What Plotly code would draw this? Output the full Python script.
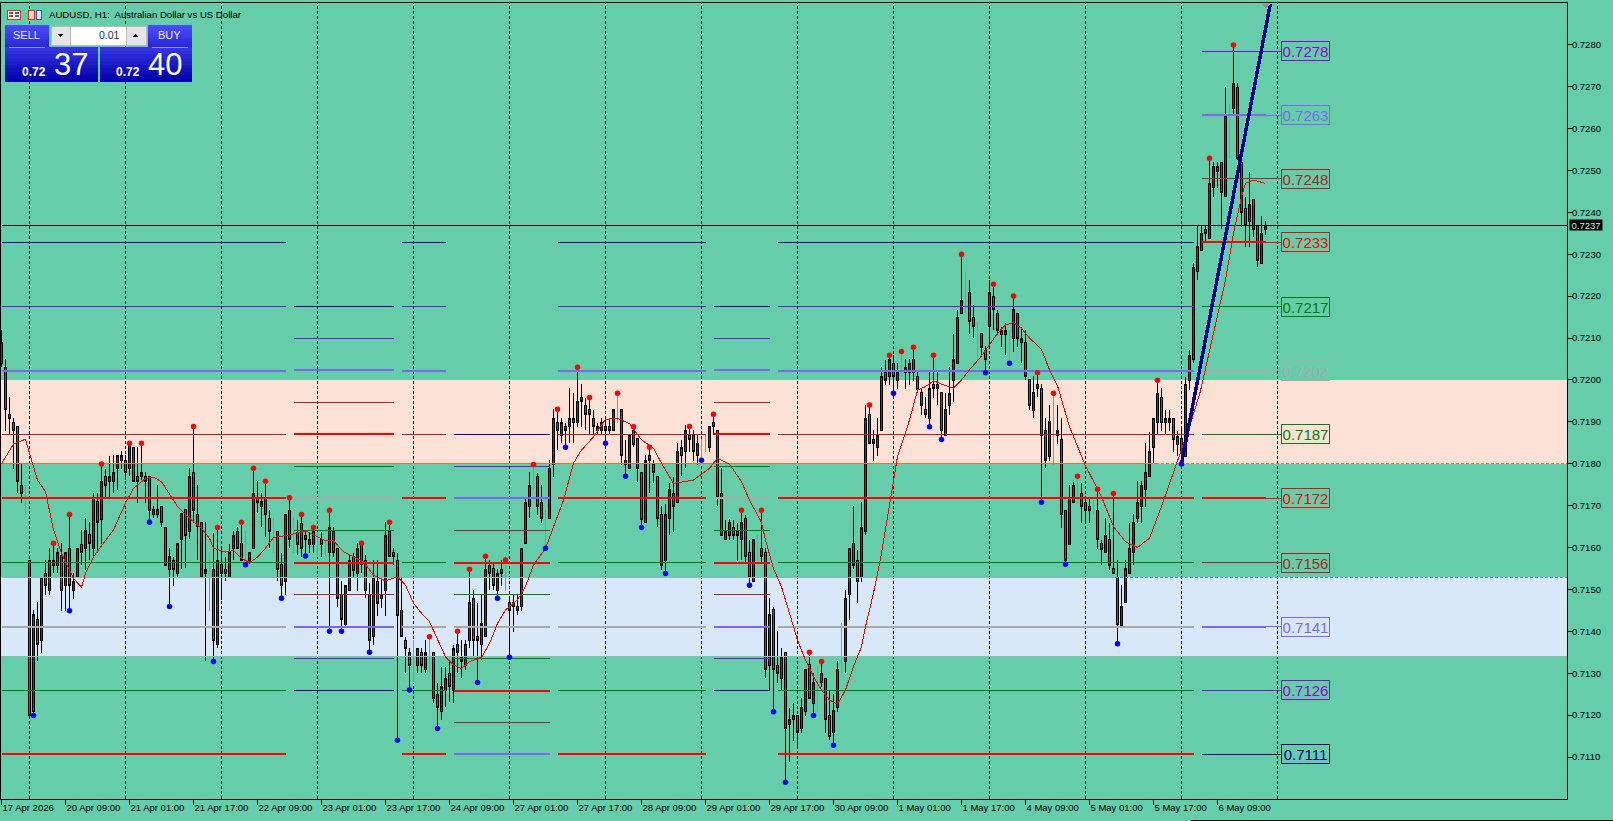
import plotly.graph_objects as go

# AUDUSD H1 chart, prices below are written in points (0.7237 -> 7237)
opens = [7204,7203,7191.8,7189.9,7188.9,7174.9,7171.7,7157,7120.8,7142.9,
 7137.8,7153.8,7149.7,7155.8,7155.8,7158,7150.9,7159.8,7149.7,7152.9,
 7160.8,7159.8,7163,7159.8,7170.9,7166.8,7176.9,7175.7,7175.7,7178.8,
 7180.7,7180.7,7178.8,7183.9,7176.9,7176.9,7176.9,7176.9,7167.9,7167.9,
 7169.8,7164.8,7154.8,7156.9,7153.8,7161.8,7169,7163.8,7177.9,7167.9,
 7165.9,7153.8,7156.2,7154.8,7136.8,7156,7154.8,7152.9,7159.8,7163.8,
 7161,7157.8,7156.9,7159.7,7172,7169.8,7172,7167,7164.8,7163.8,
 7156,7151.9,7168.8,7163.8,7163.7,7165.8,7162.8,7160.8,7160.8,7163,
 7161.8,7159.8,7158.9,7163.8,7159.8,7148.9,7141.7,7149.7,7157.8,7153.7,
 7160.7,7156.9,7148.9,7138.7,7151.9,7147.8,7149.7,7163.9,7158.9,7156.9,
 7145,7137.9,7135,7132.9,7131.8,7135,7130.8,7135.9,7135,7124.9,
 7120.9,7125.8,7130,7125.8,7136.8,7133.8,7131.8,7137.8,7147.9,7138.8,
 7136.8,7138.7,7155.8,7154.9,7149.7,7154.8,7152.9,7146.9,7145.9,7145.9,
 7145.9,7160.9,7169.8,7175.7,7176.9,7170.8,7167.9,7167,7179.8,7189.9,
 7186.8,7188.9,7188.8,7189.9,7189.9,7195.8,7193.9,7193,7190.8,7187.9,
 7187.9,7188.8,7188.8,7187.9,7193.8,7193,7180.8,7178.9,7188,7185.9,
 7177.9,7165.9,7182,7179.8,7177,7167.9,7156.8,7166.9,7172.9,7170.7,
 7181.9,7182.9,7186.8,7186.8,7181.9,7183.9,7184.9,7183.8,7189.9,7187.9,
 7172.9,7161.9,7162.8,7164.8,7163.8,7161.8,7166.9,7158.8,7151.8,7161,
 7159.8,7158.9,7131.8,7145.1,7131.8,7128.8,7135,7117.8,7119,7120,
 7116.8,7120.8,7132,7122.8,7128.8,7130,7128.8,7120,7115.8,7121.8,
 7131.9,7132.8,7148.7,7161,7156.9,7152.8,7163.8,7191.8,7185.8,7183.9,
 7187.9,7201.7,7200.8,7204,7199.8,7203,7201.7,7201.7,7204.9,7200.9,
 7196.9,7193,7190.7,7199,7199,7196.9,7186.8,7193.9,7199.8,7204,
 7215.9,7219.9,7220.9,7214.9,7211.9,7211,7206.9,7212.7,7220,7215.9,
 7210.8,7210.8,7211,7209.9,7215.9,7208.9,7209,7200,7192.8,7199,
 7198,7188,7181.8,7188.8,7186.8,7185.8,7168.9,7160.8,7170.7,7173.9,
 7172.9,7170.8,7169.8,7169.8,7168.9,7161,7158.8,7161.9,7154.9,7152.9,
 7141.3,7146.8,7153.8,7158.8,7166.9,7169.7,7173.9,7176.9,7183.8,7189.8,
 7195.8,7189.8,7189.8,7190.8,7184.7,7185.9,7181.8,7199.8,7204.9,7225.8,
 7230.8,7236,7233.7,7245.9,7249.7,7251.9,7243.7,7263.6,7264.7,7269.8,
 7251.9,7241,7237.8,7243,7236.9,7227.8,7236]
highs = [7212,7204.9,7195.9,7190.8,7188.9,7179.9,7174.9,7157,7145,7147,
 7152.9,7156.9,7159.8,7161,7159.8,7161,7158.8,7167.9,7153.8,7159.8,
 7164.2,7167,7166,7172.9,7172.9,7179.9,7178.8,7181.9,7182,7182,
 7183.1,7182,7184.9,7183.9,7184,7184.9,7178,7176.9,7169.8,7174.9,
 7169.8,7164.8,7159.8,7157.8,7161,7168,7169,7178.9,7188.9,7174.9,
 7165.9,7166,7159,7163.4,7164.8,7160,7157.8,7160.8,7164,7165,
 7166,7163.9,7158.9,7178.9,7175.8,7173,7175.8,7169,7167,7163.8,
 7158.8,7167.9,7171.9,7167,7166.6,7167.9,7164,7163.4,7164.8,7163.8,
 7163.8,7161.8,7168.9,7164.8,7159.8,7151.9,7151,7158.2,7158.6,7161,
 7161,7158.2,7151.5,7157,7157,7153,7166,7166,7159.8,7158.8,
 7153,7138.7,7136,7137.9,7135.9,7135.9,7137.9,7138.7,7135,7127.6,
 7131.6,7131.6,7132.7,7136.7,7140,7137.9,7137.9,7154.8,7149.9,7146.7,
 7148.9,7157.9,7157,7156.6,7154.8,7156.9,7157,7147.9,7148.9,7148.9,
 7159.8,7171.8,7178,7179.8,7177.7,7174.8,7169,7180.9,7193,7193,
 7190.8,7189.6,7198,7196.8,7203,7199,7195.6,7195.8,7192.8,7189.6,
 7190.8,7190.8,7190.8,7193,7196.8,7193,7185.6,7186.7,7188.8,7186,
 7177.9,7182,7183.9,7180.9,7177,7169.8,7170.5,7175.3,7176.9,7184.9,
 7185.6,7189.2,7188.9,7188,7186.8,7185.8,7186.8,7188.8,7191.8,7187.9,
 7178.9,7166.6,7166.9,7166.6,7165.8,7168.9,7167.8,7161.8,7161.8,7163,
 7168.9,7160,7147.9,7145.9,7140,7135.9,7135,7121.8,7122.8,7120,
 7124,7131,7135,7130,7131.8,7132.8,7128.8,7126,7125,7132.8,
 7141.9,7149.9,7159.8,7169.9,7159.4,7170.8,7194,7194,7188,7190.8,
 7203,7204.8,7205.9,7205.9,7204,7206.8,7204.9,7204.9,7207.8,7201.9,
 7197.8,7196,7201.9,7205.9,7201.9,7196.9,7196.9,7203,7211,7216.8,
 7230,7225.8,7223.8,7217.9,7213.9,7211,7208,7223.8,7222.8,7216.8,
 7212.7,7213.5,7211.9,7220,7215.9,7212.7,7211.9,7200,7200.9,7201.7,
 7199,7190.8,7194,7196.8,7194,7190.8,7168.9,7174.9,7175.7,7177,
 7175.3,7172.1,7171.7,7172,7173.9,7161.9,7167,7165.8,7172.9,7157,
 7151,7157,7165.8,7168.1,7175.9,7175.9,7184.9,7187.6,7190.8,7199.9,
 7198,7192.8,7192.8,7190.8,7187.9,7188.8,7200.8,7207.1,7228,7236.9,
 7236.9,7236.9,7252.9,7251.9,7251.9,7251.9,7269.8,7265.8,7279.9,7270.8,
 7251.9,7243.7,7249.7,7243,7236.9,7239,7238]
lows = [7203,7187.9,7186.9,7178.8,7172.9,7170.7,7167.8,7120,7119.9,7132.8,
 7134.9,7148.7,7148.7,7153.8,7153.8,7144.9,7144.9,7144.9,7147.6,7152.9,
 7155.8,7154.6,7156.9,7157.8,7158.6,7160.8,7171.7,7171.7,7173,7173.7,
 7178.8,7176.1,7177,7175.7,7170.7,7176,7170.7,7166,7167,7167,
 7165,7155.8,7145.9,7150.9,7152.9,7154.8,7155,7162,7165.8,7156.9,
 7152.9,7132.8,7144.9,7132.8,7135.9,7147.5,7151.9,7152.9,7157,7159.8,
 7156.9,7155.9,7156,7159.7,7168.2,7165,7162.6,7160,7158.8,7151.9,
 7147.9,7148.7,7160,7158.8,7158.2,7157.8,7158,7158.6,7158.6,7157.8,
 7157.8,7157.8,7140,7157.8,7145.9,7140,7140.8,7149.7,7152.7,7149.7,
 7153.8,7147.9,7135,7136.8,7143.7,7145.5,7143.7,7157.8,7155.8,7114,
 7138.7,7130,7126,7127.6,7130,7130,7130,7130,7122.8,7116.8,
 7118.8,7121.9,7123.2,7122.8,7130,7128.8,7130.8,7135.9,7133.9,7127.8,
 7133.2,7138.7,7149.9,7149.9,7147.9,7150.7,7149.7,7133.8,7139.9,7143.9,
 7144.9,7160.9,7167,7173.7,7167.8,7165.8,7159.8,7167,7176.9,7183.3,
 7184.9,7183.9,7184.9,7184.9,7188.8,7188.8,7188,7186.8,7186.8,7186.8,
 7186.8,7184.9,7186.8,7187.9,7189.8,7179.7,7177,7178.9,7184,7175.7,
 7164.8,7165.9,7173,7175.3,7165,7154.6,7153.8,7162.9,7163.8,7170.7,
 7177,7178.9,7182.9,7180.7,7179.7,7180.8,7182.9,7182.9,7186.8,7169.8,
 7162.8,7161.9,7161.8,7161.8,7156.8,7157,7156.2,7151,7151.8,7157,
 7156.6,7128.8,7125.7,7120.8,7127.7,7125.7,7104,7108.9,7113.9,7112.6,
 7115.8,7119.8,7124,7119.9,7120.8,7126.8,7115.8,7114,7112.8,7120.7,
 7130,7130,7142.8,7154.8,7146.8,7151.8,7163,7184.9,7180.7,7181.8,
 7187.9,7198.8,7198.8,7196.8,7197.8,7200.8,7197.8,7198.8,7199.8,7196.8,
 7191.6,7190.8,7188.8,7195.6,7193.9,7185.8,7186.8,7191.6,7194.8,7204,
 7215.9,7215.9,7211,7209.9,7204.8,7206,7201.7,7208.3,7211.9,7210.7,
 7207.8,7206,7204,7206.7,7207.8,7204,7200,7192.8,7190.8,7196,
 7170.8,7178.9,7180.7,7179.7,7184.7,7164.7,7156,7160.8,7170.7,7170.5,
 7165.9,7165.9,7165.9,7167.8,7159.6,7155.8,7158.8,7154.6,7153.8,7137,
 7141.3,7146.8,7153.8,7155.8,7165.9,7165.9,7169.7,7176.9,7179.9,7186.8,
 7187.8,7186.8,7187.8,7182.9,7181.8,7179.9,7181.8,7197.7,7204,7223.8,
 7230.8,7232.8,7233.7,7243.7,7245.9,7235.9,7243.7,7252.8,7263.2,7252.5,
 7236.6,7231.8,7231.8,7234.2,7226.9,7227.8,7234.6]
closes = [7209,7193,7190.8,7187.9,7175.7,7172.9,7171.7,7120,7143.9,7136.8,
 7152.9,7150.9,7156.9,7156.9,7158.8,7149.7,7158.8,7150.9,7151.9,7159.8,
 7158.8,7164,7161,7172,7165.9,7175.7,7174.8,7176.9,7177.9,7182,
 7182,7177.9,7184.9,7175.7,7175.7,7177.9,7175.7,7168.8,7169,7169,
 7165.9,7155.8,7157.8,7154.8,7161,7168,7162.8,7177,7168.8,7165,
 7152.9,7154.8,7156.2,7137.8,7156.9,7153.8,7153.8,7158.8,7162.9,7159.8,
 7156.9,7157.8,7158.9,7172.9,7170.7,7170.9,7167.9,7163.8,7164.8,7154.8,
 7150.9,7167.9,7161.8,7163.8,7160.8,7159.8,7161.8,7161.9,7163.8,7163,
 7160.8,7159.8,7164.8,7158.9,7147.9,7142.7,7151,7156.9,7154.6,7159.8,
 7155.9,7149.7,7137.8,7152.9,7146.7,7148.9,7162.9,7157.8,7157.8,7143.7,
 7138.7,7135.8,7131.8,7132.9,7135.9,7131.8,7135,7135.9,7124,7121.9,
 7126.8,7128.8,7126.8,7135.9,7134.9,7132.8,7136.8,7146.9,7137.8,7137.8,
 7141.9,7154.8,7153.7,7150.9,7153.8,7153.8,7152.9,7144.9,7146.9,7144.9,
 7159.8,7170.8,7174.8,7175.7,7169.8,7167,7167.9,7178.9,7190.8,7187.9,
 7189.9,7187.9,7190.8,7190.8,7194.9,7194.8,7191.8,7191.7,7188.8,7188.8,
 7189.8,7187.9,7187.9,7193,7193.8,7181.9,7179.7,7186.7,7184.7,7178.9,
 7166.8,7180.8,7180.7,7177.9,7166.9,7155.8,7167.9,7173.9,7169.8,7183,
 7183.9,7188,7185.7,7182.9,7184.9,7183.9,7184.9,7188.8,7188.8,7171.9,
 7162.8,7163.8,7165.9,7162.8,7162.8,7165.9,7157.8,7152.8,7161.8,7161,
 7157.8,7130.8,7143.9,7130.8,7130,7133.8,7116.8,7119,7120,7115.8,
 7121.8,7131,7124,7127.8,7128.8,7127.8,7119,7114.9,7121,7131,
 7131.9,7147.9,7159.8,7155.7,7151.8,7164.8,7190.8,7184.9,7184.9,7186.7,
 7200.9,7199.8,7204.9,7200.8,7202,7203,7203,7204,7201.7,7197.8,
 7193.9,7191.8,7198,7197.9,7197.9,7187.9,7193,7196.8,7204.9,7214.9,
 7219,7219.9,7213.9,7212.7,7211.9,7207.8,7204.9,7220.9,7216.8,7211.8,
 7211.8,7211.8,7211,7216.8,7209.9,7209.9,7200.8,7193.9,7196.9,7197.9,
 7186.8,7180.7,7190,7188.8,7188,7167.8,7157,7172,7174.9,7173.9,
 7169.7,7168.8,7168.8,7169.8,7161.8,7159.6,7162.9,7155.8,7153.8,7141.7,
 7146,7154.9,7159.8,7166,7170.8,7174.9,7177.9,7182.9,7190.8,7196.8,
 7189.8,7190.8,7190.8,7185.8,7186.6,7182.9,7198.9,7205.9,7226.9,7231.8,
 7235,7235,7246.9,7250.9,7250.9,7244.8,7263,7263.6,7270.8,7252.9,
 7240,7236.9,7241.9,7236,7228.6,7235,7236.9]

# swing markers (bar numbers), red sit on the high, blue on the low
swing_highs = [13,17,25,32,35,48,54,60,63,66,72,75,78,82,90,97,107,114,117,121,126,133,139,
               144,147,154,158,162,172,178,185,190,202,205,217,222,225,228,233,240,248,253,
               259,263,269,274,278,289,302,308]
swing_lows = [8,17,37,42,53,61,70,76,82,85,92,99,102,109,119,124,127,136,141,151,156,160,166,
              175,187,193,196,203,208,223,232,235,246,252,260,266,279,295]

# red moving average, read at its visible bends
ma_bars = [0,3,5,6,7,9,11,13,15,17,18,20,21,23,26,28,31,33,36,38,40,42,44,47,50,52,53,56,58,60,
           62,64,66,68,72,76,78,81,83,85.5,88,90.5,93,96,99,101,103,105,107,109,111,113,115,117,
           120,122,124,126,129,131,133,136,138,140.5,143,144.7,148,151,154,157,160,163,165,168,
           173,175,177,179,182,185,187,190,191,193,195,197,199,201,203,205,207,209,211,213,215,
           216,218,220,222.5,224,227,229,231,233,235,238,240,242,245,247,249,251,253,255,257,260,
           262,264,267,271,275,278,281,284,287,290,293,297,299.7,306,308,310,311,313,316]
ma_values = [7180,7184.7,7185.5,7185.8,7182.5,7176.1,7173.3,7164.2,7158.6,7154.6,7152.6,7150.5,
             7153.8,7157.8,7161.8,7164.2,7170.6,7174.1,7176.5,7176.8,7175.7,7172.9,7169.8,7167,
             7164.6,7162.2,7159.8,7158.9,7159.3,7157.4,7156.4,7157.7,7159.8,7162.4,7163,7164,
             7163,7161.6,7161.6,7159,7157.8,7156.6,7153.4,7152,7153,7151,7146.7,7144.3,7142.3,
             7137.9,7133.9,7132,7131.1,7132.8,7133.8,7137.1,7141.9,7145.1,7147.5,7150.7,7155.8,
             7159.8,7165,7171.3,7180.1,7182.9,7186.4,7190.6,7190.8,7189.6,7185.7,7183.7,7180.1,
             7175.3,7176.1,7177.5,7178.9,7181.3,7179.9,7175.7,7171.3,7166,7161.8,7155,7150.6,
             7144.3,7137.9,7133.1,7129.2,7126,7123.6,7122.6,7126,7131.6,7136.3,7141.1,7149.1,
             7158.6,7173.7,7181.7,7190.4,7197.6,7198.4,7199.8,7199,7198,7200,7202.4,7205.7,
             7208.3,7211.1,7213.1,7213.7,7212.3,7210,7207.3,7202.4,7198.6,7188.8,7179.5,7172.1,
             7165,7161.4,7160,7162.2,7169.8,7178.1,7188.8,7197.2,7223.8,7235,7243.7,7246.9,
             7247.7,7246.9]

trend_bars = [295, 317.2]
trend_prices = [7180, 7289.7]
last_price = 7236.9

time_labels = ["17 Apr 2026","20 Apr 09:00","21 Apr 01:00","21 Apr 17:00","22 Apr 09:00",
               "23 Apr 01:00","23 Apr 17:00","24 Apr 09:00","27 Apr 01:00","27 Apr 17:00",
               "28 Apr 09:00","29 Apr 01:00","29 Apr 17:00","30 Apr 09:00","1 May 01:00",
               "1 May 17:00","4 May 09:00","5 May 01:00","5 May 17:00","6 May 09:00"]
label_bars = list(range(0, 305, 16))
day_bars = list(range(7, 320, 24))

# pivot levels, one ladder per session
navy, violet, slate, brown, red, green, grey = ("#0000A8", "#8010E0", "#7B68EE", "#B02020",
                                                "#FF0000", "#008000", "#A9A9A9")
wide_ladder = [7232.8, 7217.5, 7202.2, 7187, 7171.7, 7156.4, 7141.1, 7125.9, 7110.6]
wide_colors = [navy, violet, slate, brown, red, green, grey, green, red]
mid_ladder = [7217.6, 7210, 7202.3, 7194.7, 7187, 7179.4, 7171.7, 7164.1, 7156.4, 7148.8, 7141.1, 7133.5, 7125.8]
mid_colors = [navy, violet, slate, brown, red, green, grey, green, red, brown, slate, violet, navy]
low_ladder = [7187, 7179.4, 7171.7, 7164.1, 7156.4, 7148.8, 7141.1, 7133.5, 7125.8, 7118.2, 7110.6]
low_colors = [navy, violet, slate, brown, red, green, grey, green, red, brown, slate]
last_ladder = [7278.4, 7263.2, 7248, 7232.8, 7217.4, 7202.2, 7187, 7171.7, 7156.4, 7141.1, 7125.9, 7110.6]
last_colors = [violet, slate, brown, red, green, grey, green, red, brown, slate, violet, navy]
last_label_colors = ["#9400D3", "#7B68EE", "#B02020", "#FF0000", "#008000", "#A9A9A9",
                     "#008000", "#FF0000", "#B02020", "#7B68EE", "#9400D3", "#000080"]

sessions = [(0, 71, wide_ladder, wide_colors), (73, 98, mid_ladder, mid_colors),
            (100, 111, wide_ladder, wide_colors), (113, 137, low_ladder, low_colors),
            (139, 176, wide_ladder, wide_colors), (178, 192, mid_ladder, mid_colors),
            (194, 298, wide_ladder, wide_colors), (300, 316, last_ladder, last_colors)]

pink_band = (7180, 7200)
blue_band = (7134, 7152.9)

# page geometry
W, H = 1613, 821
L, R, T, B = 1, 1567, 3, 799
FONT = "Liberation Sans, sans-serif"
BG = "#66CDAA"


def px(x):
    return (x - L) / (R - L)


def py(y):
    return 1 - (y - T) / (B - T)


def p(v):
    return v / 10000


fig = go.Figure()

bars = list(range(len(opens)))
candle_i = [i for i in bars if opens[i] != closes[i]]
doji_i = [i for i in bars if opens[i] == closes[i]]

fig.add_trace(go.Candlestick(
    x=candle_i,
    open=[p(opens[i]) for i in candle_i], high=[p(highs[i]) for i in candle_i],
    low=[p(lows[i]) for i in candle_i], close=[p(closes[i]) for i in candle_i],
    increasing=dict(line=dict(color="black", width=1), fillcolor="#006E00"),
    decreasing=dict(line=dict(color="black", width=1), fillcolor="#F01818"),
    showlegend=False, hoverinfo="skip"))
fig.add_trace(go.Candlestick(
    x=doji_i,
    open=[p(opens[i]) for i in doji_i], high=[p(highs[i]) for i in doji_i],
    low=[p(lows[i]) for i in doji_i], close=[p(closes[i]) for i in doji_i],
    increasing=dict(line=dict(color="#20E030", width=1), fillcolor="#20E030"),
    decreasing=dict(line=dict(color="#20E030", width=1), fillcolor="#20E030"),
    showlegend=False, hoverinfo="skip"))


def line(xs, ys, color, width=1, dash="solid"):
    fig.add_trace(go.Scatter(x=xs, y=[p(v) for v in ys], mode="lines", showlegend=False,
                             hoverinfo="skip", line=dict(color=color, width=width, dash=dash)))


# band edges
line([0, 288.5], [pink_band[0]] * 2, "#F07030", 1)
line([288.5, 391.4], [pink_band[0]] * 2, "#F07030", 1, "3px,2px")
line([0, 278.4], [blue_band[1]] * 2, "#8FB8B0", 1)
line([278.4, 391.4], [blue_band[1]] * 2, "#4A90D0", 1, "3px,2px")
line([0, 391.4], [blue_band[0]] * 2, "#8FB8B0", 1)

line([0, 391.4], [last_price] * 2, "black", 1)

# session levels
for start, end, ladder, colors in sessions:
    for value, color in zip(ladder, colors):
        thick = color in (slate, red, grey)
        line([start, end], [value, value], color, 2 if thick else 1)
for value, color in zip(last_ladder, last_label_colors):
    line([316, 320], [value, value], color, 1)

line(ma_bars, ma_values, "#FF0000", 1)
line(trend_bars, trend_prices, "#00008B", 3.5)

fig.add_trace(go.Scatter(x=swing_highs, y=[p(highs[i]) for i in swing_highs], mode="markers",
                         marker=dict(color="#FF0000", size=5.5), showlegend=False, hoverinfo="skip"))
fig.add_trace(go.Scatter(x=swing_lows, y=[p(lows[i]) for i in swing_lows], mode="markers",
                         marker=dict(color="#0000FF", size=5.5), showlegend=False, hoverinfo="skip"))

shapes = []
# bands and day separators sit under the candles
for low, high, color in [(pink_band[0], pink_band[1], "#FCE2D6"), (blue_band[0], blue_band[1], "#D8E8F9")]:
    shapes.append(dict(type="rect", layer="below", xref="paper", x0=0, x1=1, yref="y", y0=p(low), y1=p(high),
                       fillcolor=color, line=dict(width=0)))
for b in day_bars:
    shapes.append(dict(type="line", layer="below", xref="x", x0=b, x1=b, yref="paper", y0=0, y1=1,
                       line=dict(color="black", width=1, dash="3px,2px")))


def box(x0, y0, x1, y1, fill, edge=None, width=1):
    shapes.append(dict(type="rect", xref="paper", yref="paper", x0=px(x0), x1=px(x1), y0=py(y0), y1=py(y1),
                       fillcolor=fill, line=dict(color=edge, width=width) if edge else dict(width=0)))


def gradient(x0, y0, x1, y1, top, bottom, steps=10):
    h = (y1 - y0) / steps
    for s in range(steps):
        t = s / (steps - 1)
        c = [round(top[k] + (bottom[k] - top[k]) * t) for k in range(3)]
        box(x0, y0 + s * h, x1, y0 + (s + 1) * h + 0.3, f"rgb({c[0]},{c[1]},{c[2]})")


# trade panel
gradient(5, 25, 49, 48, (74, 74, 255), (40, 40, 215))
gradient(148, 25, 192, 48, (74, 74, 255), (40, 40, 215))
gradient(5, 47, 98, 82, (52, 52, 225), (0, 0, 170))
gradient(100, 47, 192, 82, (52, 52, 225), (0, 0, 170))
shapes.append(dict(type="line", xref="paper", yref="paper", x0=px(9), x1=px(45), y0=py(47), y1=py(47),
                   line=dict(color="#9090F0", width=1)))
shapes.append(dict(type="line", xref="paper", yref="paper", x0=px(152), x1=px(188), y0=py(47), y1=py(47),
                   line=dict(color="#9090F0", width=1)))
box(51, 26, 70, 45, "#E4E4E4", "#B8B8B8")
box(70, 26, 126, 45, "#FFFFFF", "#B8B8B8")
box(126, 26, 146, 45, "#E4E4E4", "#B8B8B8")
shapes.append(dict(type="path", xref="paper", yref="paper", fillcolor="black", line=dict(width=0),
                   path=f"M {px(58)} {py(34)} L {px(63)} {py(34)} L {px(60.5)} {py(37)} Z"))
shapes.append(dict(type="path", xref="paper", yref="paper", fillcolor="black", line=dict(width=0),
                   path=f"M {px(133)} {py(37)} L {px(138)} {py(37)} L {px(135.5)} {py(34)} Z"))

# title icons
box(7, 10, 20.5, 19.5, "#FFFFFF", "#E03020")
box(9, 12, 13, 13.5, "#E03020")
box(14.5, 12, 18.5, 13.5, "#3060D0")
box(9, 15, 13, 16.5, "#E03020")
box(14.5, 15, 18.5, 16.5, "#3060D0")
box(28, 10, 34, 19.5, "#FAD8C8", "#D03020")
box(36, 10, 41.5, 19.5, "#D8E8F8", "#2060C0")

# grey arrow head at the end of the trend line
shapes.append(dict(type="path", xref="paper", yref="paper", fillcolor="#909090", line=dict(width=0),
                   path=f"M {px(1261)} {py(4)} L {px(1270)} {py(4)} L {px(1266)} {py(8)} Z"))
# edge of the window at the very bottom
shapes.append(dict(type="line", xref="paper", yref="paper", x0=px(1191), x1=px(1613), y0=py(820.5), y1=py(820.5),
                   line=dict(color="black", width=1)))

annotations = []


def text(x, y, s, size, color, anchor="left"):
    annotations.append(dict(x=px(x), xref="paper", y=py(y), yref="paper", text=s,
                            showarrow=False, xanchor=anchor, yanchor="middle",
                            font=dict(family=FONT, size=size, color=color)))


text(47, 14.5, "AUDUSD, H1:  Australian Dollar vs US Dollar", 9.6, "black")
text(26, 35, "SELL", 11, "#F0F0FF", "center")
text(169, 35, "BUY", 11, "#F0F0FF", "center")
text(121.5, 35, "0.01", 10.5, "#203060", "right")
text(48, 71.5, "<b>0.72</b>", 12, "white", "right")
text(52, 65, "37", 31, "white")
text(142, 71.5, "<b>0.72</b>", 12, "white", "right")
text(146, 65, "40", 31, "white")

# level tags to the right of the candles
for value, color in zip(last_ladder, last_label_colors):
    annotations.append(dict(x=px(1281), xref="paper", y=p(value), yref="y", text=f"{p(value):.4f}",
                            showarrow=False, xanchor="left", yanchor="middle", width=47, height=18,
                            align="center", valign="middle", borderpad=0, bordercolor=color, borderwidth=1,
                            font=dict(family=FONT, size=15, color=color)))

annotations.append(dict(x=px(1569), xref="paper", y=p(last_price), yref="y", text=f"{p(last_price):.4f}",
                        showarrow=False, xanchor="left", yanchor="middle", width=32, height=10, bgcolor="black",
                        borderpad=0, font=dict(family=FONT, size=9.5, color="#C8F0E0")))

fig.update_layout(
    width=W, height=H, autosize=False,
    margin=dict(l=L, r=W - R, t=T, b=H - B, pad=0, autoexpand=False),
    paper_bgcolor=BG, plot_bgcolor=BG, boxgap=0.5,
    shapes=shapes, annotations=annotations, showlegend=False,
    font=dict(family=FONT, size=9.5, color="black"),
    xaxis=dict(range=[(L - 1.5) / 4, (R - 1.5) / 4], rangeslider=dict(visible=False), showgrid=False,
               zeroline=False, tickmode="array", tickvals=label_bars, ticktext=time_labels, tickangle=0,
               ticks="outside", ticklen=5, tickcolor="black", tickwidth=1,
               ticklabelposition="outside right", showline=True, mirror=True, linecolor="black", linewidth=1),
    yaxis=dict(side="right", range=[p(7240 - (B - 212.3) / 4.19), p(7240 + (212.3 - T) / 4.19)], showgrid=False,
               zeroline=False, tickmode="array", tickvals=[p(v) for v in range(7110, 7281, 10)], tickformat=".4f",
               ticks="outside", ticklen=5, tickcolor="black", tickwidth=1, ticklabelstandoff=-3,
               showline=True, mirror=True, linecolor="black", linewidth=1),
)

crisp = ("document.body.style.margin='0';"
         "var s=document.createElement('style');"
         "s.textContent='.js-line,.boxes path,.shapelayer path{shape-rendering:crispEdges}';"
         "document.head.appendChild(s);")
fig.write_html("out.html", config=dict(displayModeBar=False), post_script=crisp)
